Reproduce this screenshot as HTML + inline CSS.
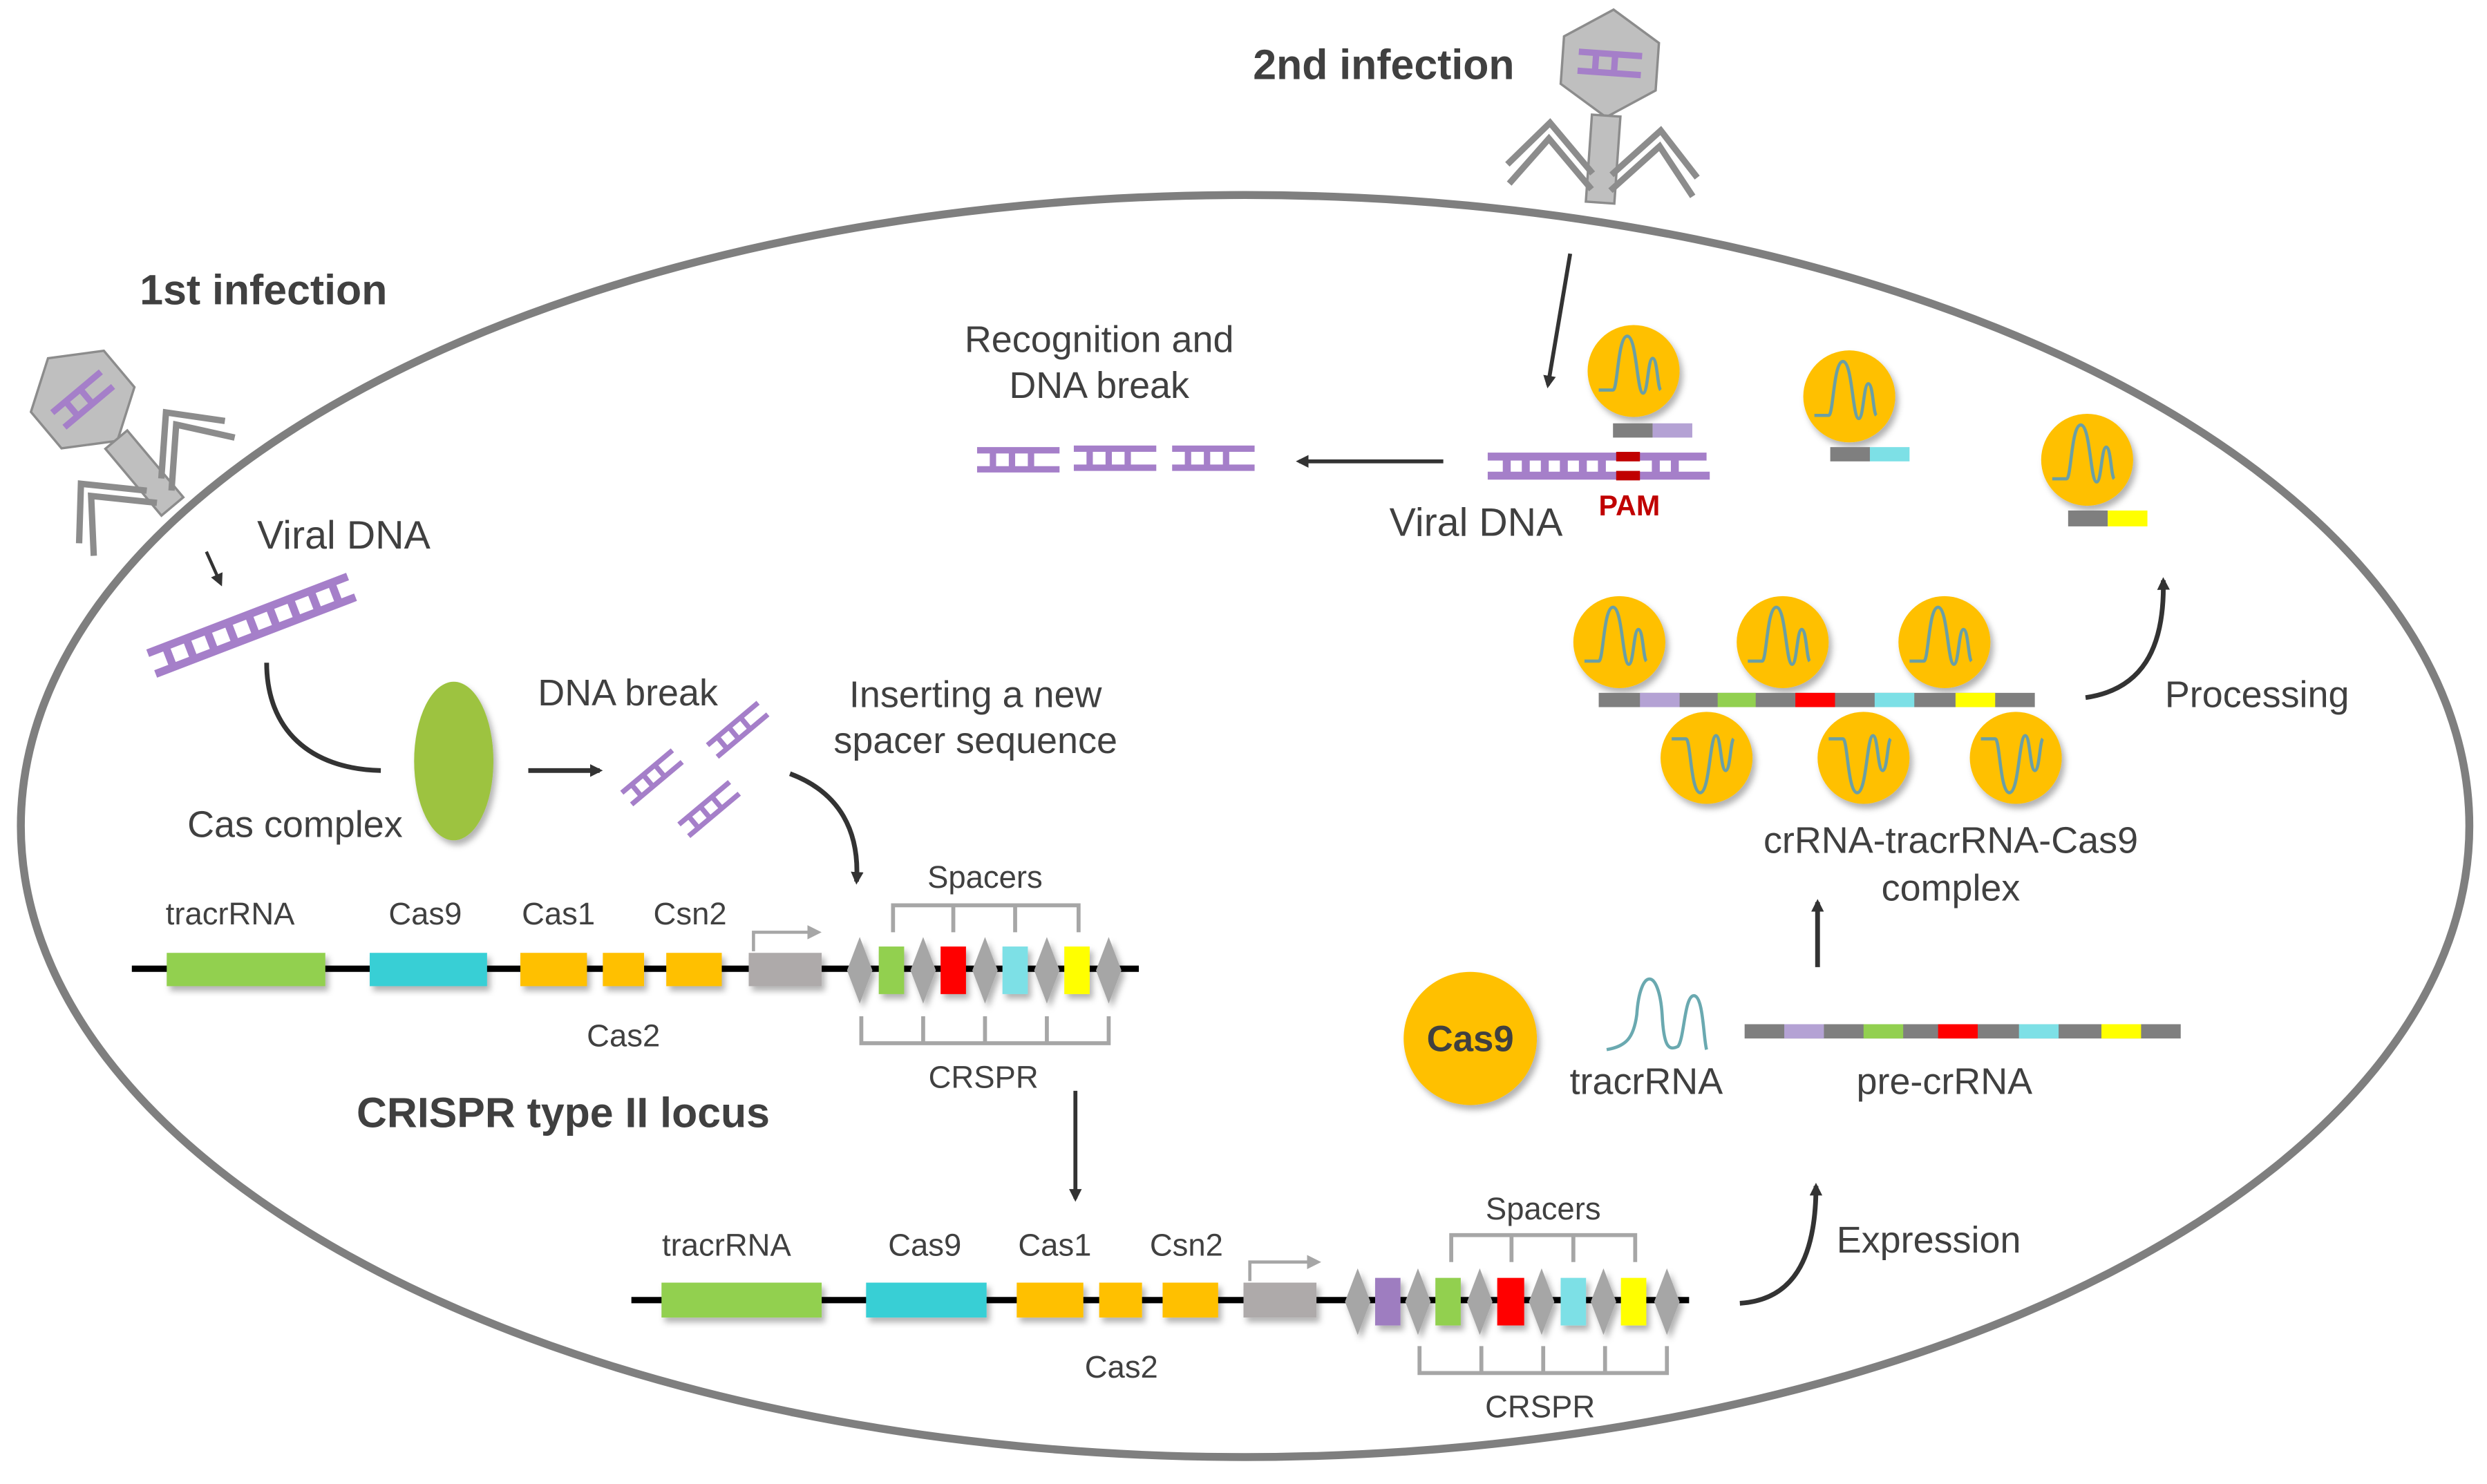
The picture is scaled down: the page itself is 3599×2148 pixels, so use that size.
<!DOCTYPE html>
<html><head><meta charset="utf-8"><style>
html,body{margin:0;padding:0;background:#fff}
svg{display:block}
text{font-family:"Liberation Sans",sans-serif;fill:#404040}
</style></head><body>
<svg width="3599" height="2148" viewBox="0 0 1568 936" xmlns="http://www.w3.org/2000/svg">
<defs>
<filter id="sh" x="-30%" y="-30%" width="160%" height="160%"><feDropShadow dx="2" dy="3" stdDeviation="2" flood-color="#000" flood-opacity="0.3"/></filter>
<marker id="ah" markerWidth="8" markerHeight="8" refX="6" refY="4" orient="auto" markerUnits="userSpaceOnUse"><path d="M0,0 L8,4 L0,8 Z" fill="#333"/></marker>
<marker id="ag" markerWidth="9" markerHeight="9" refX="6" refY="4.5" orient="auto" markerUnits="userSpaceOnUse"><path d="M0,0 L9,4.5 L0,9 Z" fill="#a6a6a6"/></marker>
<g id="up"><circle r="29" fill="#FFC000" filter="url(#sh)"/><path d="M-22,12 L-13,12 C-10,12 -10,-22 -4,-22 C2,-22 2,14 6,14 C9,14 9,-8 12,-8 C15,-8 15,10 17,12" fill="none" stroke="#6a9fa5" stroke-width="2"/></g>
<g id="dn"><circle r="29" fill="#FFC000" filter="url(#sh)"/><path d="M-22,-12 L-13,-12 C-10,-12 -10,22 -4,22 C2,22 2,-14 6,-14 C9,-14 9,8 12,8 C15,8 15,-10 17,-12" fill="none" stroke="#6a9fa5" stroke-width="2"/></g>
<path id="dia" d="M0,-21 L8,0 L0,21 L-8,0 Z" fill="#a6a6a6"/>
<g id="lad" stroke="#a57fc9" stroke-width="4" fill="none"><path d="M0,0 H52 M0,12 H52 M10,0 V12 M22,0 V12 M34,0 V12"/></g>
<g id="phage">
<path d="M-30,-15 L0,-34 L30,-15 L30,15 L0,34 L-30,15 Z" fill="#bfbfbf" stroke="#8c8c8c" stroke-width="1.5"/>
<g stroke="#a57fc9" stroke-width="4"><path d="M-20,-6 H20 M-20,6 H20 M-9,-6 V6 M3,-6 V6"/></g>
<rect x="-9" y="33" width="18" height="55" fill="#bfbfbf" stroke="#8c8c8c" stroke-width="1.5"/>
<g fill="none" stroke="#8c8c8c" stroke-width="4"><path d="M-6,70 L-35,40 L-60,68 M-6,80 L-35,50 L-58,80"/><path d="M6,70 L35,40 L60,68 M6,80 L35,50 L58,80"/></g>
</g>
</defs>

<ellipse cx="785" cy="521" rx="772" ry="398" fill="none" stroke="#7f7f7f" stroke-width="5"/>

<use href="#phage" transform="translate(52,252) rotate(-40)"/>
<use href="#phage" transform="translate(1015,40) rotate(4)"/>

<text x="790" y="50" font-size="26.5" font-weight="bold" fill="#595959">2nd infection</text>
<text x="88" y="192" font-size="26.5" font-weight="bold" fill="#595959">1st infection</text>

<line x1="130" y1="348" x2="139" y2="368" stroke="#333" stroke-width="2" marker-end="url(#ah)"/>
<text x="162" y="346" font-size="25">Viral DNA</text>
<g transform="translate(93,412) rotate(-21)" stroke="#a57fc9" stroke-width="5" fill="none"><path d="M0,0 H135 M0,14 H135 M12,0 V14 M26,0 V14 M40,0 V14 M54,0 V14 M68,0 V14 M82,0 V14 M96,0 V14 M110,0 V14 M124,0 V14"/></g>
<path d="M168,418 C168,460 195,485 240,486" fill="none" stroke="#333" stroke-width="3"/>
<ellipse cx="286" cy="480" rx="25" ry="50" fill="#9dc33f" filter="url(#sh)"/>
<text x="118" y="528" font-size="23.5">Cas complex</text>
<line x1="333" y1="486" x2="378" y2="486" stroke="#333" stroke-width="3" marker-end="url(#ah)"/>
<text x="339" y="445" font-size="23.5">DNA break</text>
<use href="#lad" transform="translate(392,500) rotate(-40) scale(0.8)"/>
<use href="#lad" transform="translate(446,470) rotate(-40) scale(0.8)"/>
<use href="#lad" transform="translate(428,520) rotate(-40) scale(0.8)"/>
<text x="615" y="446" font-size="23.5" text-anchor="middle">Inserting a new</text>
<text x="615" y="475" font-size="23.5" text-anchor="middle">spacer sequence</text>
<path d="M498,488 C530,500 542,525 540,556" fill="none" stroke="#333" stroke-width="3" marker-end="url(#ah)"/>

<line x1="83" y1="611" x2="718" y2="611" stroke="#000" stroke-width="4"/>
<g filter="url(#sh)">
<rect x="105" y="601" width="100" height="21" fill="#92d050"/>
<rect x="233" y="601" width="74" height="21" fill="#38cfd5"/>
<rect x="328" y="601" width="42" height="21" fill="#ffc000"/>
<rect x="380" y="601" width="26" height="21" fill="#ffc000"/>
<rect x="420" y="601" width="35" height="21" fill="#ffc000"/>
<rect x="472" y="601" width="46" height="21" fill="#aeaaaa"/>
</g>
<path d="M475,600 V588 H515" fill="none" stroke="#a6a6a6" stroke-width="2" marker-end="url(#ag)"/>
<g filter="url(#sh)">
<use href="#dia" x="542" y="612"/><use href="#dia" x="582" y="612"/><use href="#dia" x="621" y="612"/><use href="#dia" x="660" y="612"/><use href="#dia" x="699" y="612"/>
<rect x="554" y="597" width="16" height="30" fill="#92d050"/>
<rect x="593" y="597" width="16" height="30" fill="#f00"/>
<rect x="632" y="597" width="16" height="30" fill="#7de0e6"/>
<rect x="671" y="597" width="16" height="30" fill="#ff0"/>
</g>
<path d="M563,588 V571 H680 V588 M601,571 V588 M640,571 V588" fill="none" stroke="#a6a6a6" stroke-width="2.5"/>
<path d="M543,641 V658 H699 V641 M582,641 V658 M621,641 V658 M660,641 V658" fill="none" stroke="#a6a6a6" stroke-width="2.5"/>
<g font-size="19.8" text-anchor="middle">
<text x="145" y="583">tracrRNA</text><text x="268" y="583">Cas9</text><text x="352" y="583">Cas1</text><text x="435" y="583">Csn2</text>
<text x="393" y="660">Cas2</text><text x="621" y="560">Spacers</text><text x="620" y="686">CRSPR</text>
</g>
<text x="355" y="711" font-size="26.5" font-weight="bold" text-anchor="middle" fill="#595959">CRISPR type II locus</text>
<line x1="678" y1="688" x2="678" y2="756" stroke="#333" stroke-width="2.5" marker-end="url(#ah)"/>

<line x1="398" y1="820" x2="1065" y2="820" stroke="#000" stroke-width="4"/>
<g filter="url(#sh)">
<rect x="417" y="809" width="101" height="22" fill="#92d050"/>
<rect x="546" y="809" width="76" height="22" fill="#38cfd5"/>
<rect x="641" y="809" width="42" height="22" fill="#ffc000"/>
<rect x="693" y="809" width="27" height="22" fill="#ffc000"/>
<rect x="733" y="809" width="35" height="22" fill="#ffc000"/>
<rect x="784" y="809" width="46" height="22" fill="#aeaaaa"/>
</g>
<path d="M788,808 V796 H830" fill="none" stroke="#a6a6a6" stroke-width="2" marker-end="url(#ag)"/>
<g filter="url(#sh)">
<use href="#dia" x="856" y="821"/><use href="#dia" x="894" y="821"/><use href="#dia" x="933" y="821"/><use href="#dia" x="972" y="821"/><use href="#dia" x="1011" y="821"/><use href="#dia" x="1051" y="821"/>
<rect x="867" y="806" width="16" height="30" fill="#9e7dc0"/>
<rect x="905" y="806" width="16" height="30" fill="#92d050"/>
<rect x="944" y="806" width="17" height="30" fill="#f00"/>
<rect x="984" y="806" width="16" height="30" fill="#7de0e6"/>
<rect x="1022" y="806" width="16" height="30" fill="#ff0"/>
</g>
<path d="M915,796 V779 H1031 V796 M953,779 V796 M992,779 V796" fill="none" stroke="#a6a6a6" stroke-width="2.5"/>
<path d="M895,849 V866 H1051 V849 M934,849 V866 M973,849 V866 M1012,849 V866" fill="none" stroke="#a6a6a6" stroke-width="2.5"/>
<g font-size="19.8" text-anchor="middle">
<text x="458" y="792">tracrRNA</text><text x="583" y="792">Cas9</text><text x="665" y="792">Cas1</text><text x="748" y="792">Csn2</text>
<text x="707" y="869">Cas2</text><text x="973" y="769">Spacers</text><text x="971" y="894">CRSPR</text>
</g>

<path d="M1097,822 C1130,820 1145,795 1145,748" fill="none" stroke="#333" stroke-width="3" marker-end="url(#ah)"/>
<text x="1158" y="790" font-size="23.5">Expression</text>
<circle cx="927" cy="655" r="42" fill="#FFC000" filter="url(#sh)"/>
<text x="927" y="663" font-size="23" font-weight="bold" text-anchor="middle" fill="#404040">Cas9</text>
<path d="M1013,662 C1025,660 1030,655 1032,640 C1034,610 1046,610 1048,640 C1049,660 1052,663 1058,660 C1062,655 1062,628 1068,628 C1074,628 1074,655 1076,662" fill="none" stroke="#6aa9b0" stroke-width="2"/>
<text x="1038" y="690" font-size="23.5" text-anchor="middle">tracrRNA</text>
<g>
<rect x="1100" y="646" width="275" height="9" fill="#7f7f7f"/>
<rect x="1125" y="646" width="25" height="9" fill="#b4a2d4"/>
<rect x="1175" y="646" width="25" height="9" fill="#92d050"/>
<rect x="1222" y="646" width="25" height="9" fill="#f00"/>
<rect x="1273" y="646" width="25" height="9" fill="#7de0e6"/>
<rect x="1325" y="646" width="25" height="9" fill="#ff0"/>
</g>
<text x="1226" y="690" font-size="23.5" text-anchor="middle">pre-crRNA</text>
<line x1="1146" y1="610" x2="1146" y2="569" stroke="#333" stroke-width="3" marker-end="url(#ah)"/>

<use href="#up" x="1021" y="405"/><use href="#up" x="1124" y="405"/><use href="#up" x="1226" y="405"/>
<g>
<rect x="1008" y="437" width="275" height="9" fill="#7f7f7f"/>
<rect x="1034" y="437" width="25" height="9" fill="#b4a2d4"/>
<rect x="1083" y="437" width="24" height="9" fill="#92d050"/>
<rect x="1132" y="437" width="25" height="9" fill="#f00"/>
<rect x="1182" y="437" width="25" height="9" fill="#7de0e6"/>
<rect x="1233" y="437" width="25" height="9" fill="#ff0"/>
</g>
<use href="#dn" x="1076" y="478"/><use href="#dn" x="1175" y="478"/><use href="#dn" x="1271" y="478"/>
<text x="1230" y="538" font-size="23.5" text-anchor="middle">crRNA-tracrRNA-Cas9</text>
<text x="1230" y="568" font-size="23.5" text-anchor="middle">complex</text>
<path d="M1315,440 C1350,435 1365,410 1364,366" fill="none" stroke="#333" stroke-width="3" marker-end="url(#ah)"/>
<text x="1365" y="446" font-size="23.5">Processing</text>

<use href="#up" x="1030" y="234"/>
<rect x="1017" y="267" width="25" height="9" fill="#7f7f7f"/><rect x="1042" y="267" width="25" height="9" fill="#b4a2d4"/>
<use href="#up" x="1166" y="250"/>
<rect x="1154" y="282" width="25" height="9" fill="#7f7f7f"/><rect x="1179" y="282" width="25" height="9" fill="#7de0e6"/>
<use href="#up" x="1316" y="290"/>
<rect x="1304" y="322" width="25" height="10" fill="#7f7f7f"/><rect x="1329" y="322" width="25" height="10" fill="#ff0"/>

<line x1="990" y1="160" x2="976" y2="243" stroke="#333" stroke-width="2.5" marker-end="url(#ah)"/>
<g stroke="#a57fc9" stroke-width="5" fill="none"><path d="M938,288 H1076 M938,300 H1078 M950,288 V300 M962,288 V300 M974,288 V300 M986,288 V300 M998,288 V300 M1010,288 V300 M1044,288 V300 M1056,288 V300"/></g>
<rect x="1019" y="285" width="15" height="6" fill="#c00000"/><rect x="1019" y="297" width="15" height="6" fill="#c00000"/>
<text x="1008" y="325" font-size="18" font-weight="bold" style="fill:#c00000">PAM</text>
<text x="876" y="338" font-size="25">Viral DNA</text>
<line x1="910" y1="291" x2="819" y2="291" stroke="#333" stroke-width="2.5" marker-end="url(#ah)"/>
<use href="#lad" transform="translate(616,284)"/>
<use href="#lad" transform="translate(677,283)"/>
<use href="#lad" transform="translate(739,283)"/>
<text x="693" y="222" font-size="23.5" text-anchor="middle">Recognition and</text>
<text x="693" y="251" font-size="23.5" text-anchor="middle">DNA break</text>
</svg>
</body></html>
